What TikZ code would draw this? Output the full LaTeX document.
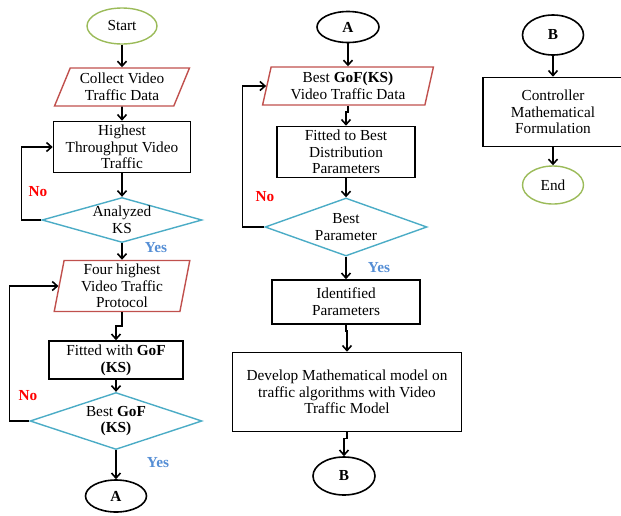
\documentclass[tikz,border=0pt]{standalone}
\usepackage{fontspec}
\setmainfont{Liberation Serif}
\usetikzlibrary{arrows.meta, shapes.geometric, positioning}

\definecolor{termgreen}{HTML}{9BBB59}
\definecolor{iored}{HTML}{C0504D}
\definecolor{decblue}{HTML}{4BACC6}
\definecolor{yesblue}{HTML}{558ED5}
\newcommand{\flowsize}{\fontsize{15.3}{16.7}\selectfont}

\begin{document}
\begin{tikzpicture}[x=1pt, y=-1pt, every node/.style={inner sep=0pt, align=center, font=\flowsize},
        term/.style={ellipse, draw=termgreen, line width=1.4pt},
        conn/.style={ellipse, draw, line width=1.6pt, font=\flowsize\bfseries},
        io/.style={trapezium, trapezium stretches=true, draw=iored, line width=1.4pt},
        proc/.style={rectangle, draw, line width=1.6pt},
        dec/.style={diamond, draw=decblue, line width=1.4pt, inner sep=-2pt},
        nolabel/.style={text=red, font=\flowsize\bfseries},
        yeslabel/.style={text=yesblue, font=\flowsize\bfseries},
        arr/.style={line width=1.6pt, -{Straight Barb[length=5pt,width=9pt]}}]
                \useasboundingbox (0,0) rectangle (621,515);
                \node[term, minimum width=70pt, minimum height=36pt](start) at (122,26){Start};
                \node[io, trapezium left angle=65, trapezium right angle=115, minimum width=135pt, minimum height=38pt](collect) at (122,87){Collect Video\\Traffic Data};
                \node[proc, minimum width=137pt, minimum height=51pt](high) at (122,147){Highest\\Throughput Video\\Traffic};
                \node[dec, aspect=3.56, minimum width=160pt, minimum height=45pt](analyzed) at (122,220){Analyzed\\KS};
                \node[io, trapezium left angle=81, trapezium right angle=99, minimum width=136pt, minimum height=51pt](four) at (122,286){Four highest\\Video Traffic\\Protocol};
                \node[proc, minimum width=134pt, minimum height=38pt](fitted) at (116,360){Fitted with \textbf{GoF}\\\textbf{(KS)}};
                \node[dec, aspect=3.0, minimum width=172pt, minimum height=57pt](bestgof) at (116,421){Best \textbf{GoF}\\\textbf{(KS)}};
                \node[conn, minimum width=61pt, minimum height=32pt](outA) at (116,496){A};
                \node[nolabel](no1) at (38,192){No};
                \node[yeslabel](yes1) at (156,248){Yes};
                \node[nolabel](no2) at (28,396){No};
                \node[yeslabel](yes2) at (158,463){Yes};
                \draw[arr] (start) -- (collect);
                \draw[arr] (collect) -- (high);
                \draw[arr] (high) -- (analyzed);
                \draw[arr] (analyzed) -- (four);
                \draw[arr] (analyzed.west) -- ++(-20,0) |- (high.west);
                \draw[arr] (four.south) -- ++(0,14) -| (fitted.north);
                \draw[arr] (fitted) -- (bestgof);
                \draw[arr] (bestgof) -- (outA);
                \draw[arr] (bestgof.west) -- ++(-20,0) |- (four.west);
                \node[conn, minimum width=62pt, minimum height=31pt](inA) at (348,27){A};
                \node[io, trapezium left angle=77, trapezium right angle=103, minimum width=171pt, minimum height=38pt](bestdata) at (348,86){Best \textbf{GoF(KS)}\\Video Traffic Data};
                \node[proc, minimum width=138pt, minimum height=51pt](fitbest) at (346,152){Fitted to Best\\Distribution\\Parameters};
                \node[dec, aspect=2.8, minimum width=162pt, minimum height=58pt](bestpar) at (346,227){Best\\Parameter};
                \node[proc, minimum width=148pt, minimum height=44pt](ident) at (346,302){Identified\\Parameters};
                \node[proc, minimum width=229pt, minimum height=79pt](develop) at (347,392){Develop Mathematical model on\\traffic algorithms with Video\\Traffic Model};
                \node[conn, minimum width=62pt, minimum height=38pt](outB) at (344,476){B};
                \node[nolabel](no3) at (265,197){No};
                \node[yeslabel](yes3) at (379,268){Yes};
                \draw[arr] (inA) -- (bestdata);
                \draw[arr] (bestdata.south) -- ++(0,6) -| (fitbest.north);
                \draw[arr] (fitbest) -- (bestpar);
                \draw[arr] (bestpar) -- (ident);
                \draw[arr] (bestpar.west) -- ++(-22,0) |- (bestdata.west);
                \draw[arr] (ident.south) -- ++(0,6) -| (develop.north);
                \draw[arr] (develop.south) -- ++(0,6) -| (outB.north);
                \node[conn, minimum width=61pt, minimum height=40pt](inB) at (553,35){B};
                \node[proc, minimum width=140pt, minimum height=69pt](ctrl) at (553,112){Controller\\Mathematical\\Formulation};
                \node[term, minimum width=61pt, minimum height=38pt](end) at (553,185){End};
                \draw[arr] (inB) -- (ctrl);
                \draw[arr] (ctrl) -- (end);
            \end{tikzpicture}
\end{document}
